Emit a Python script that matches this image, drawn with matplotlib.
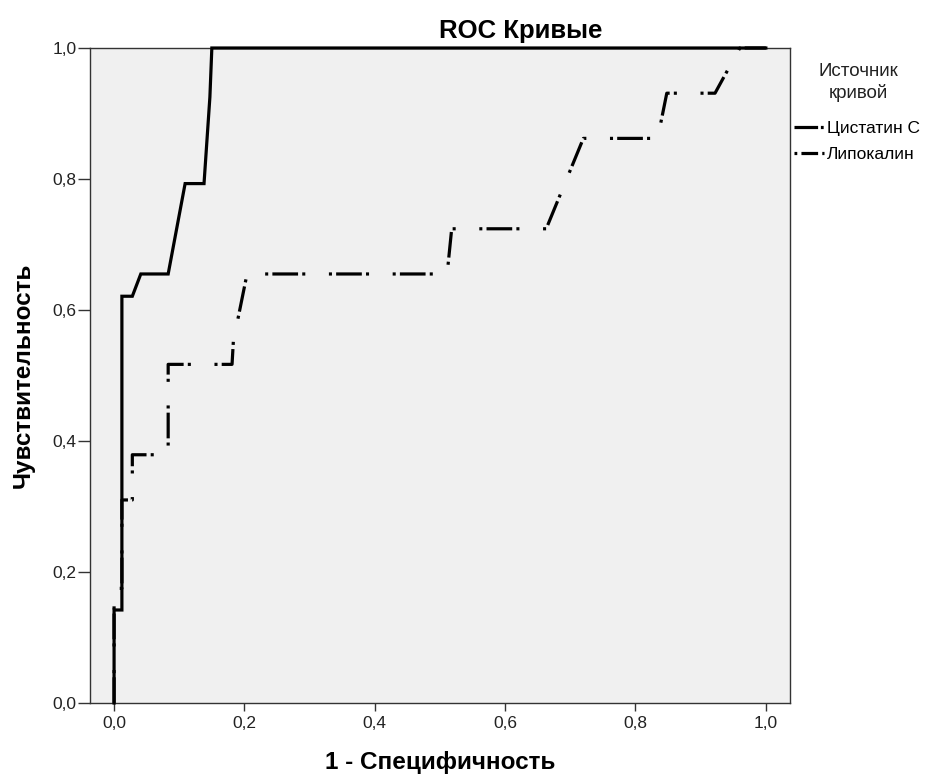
import matplotlib
matplotlib.use("Agg")
import matplotlib.pyplot as plt
from matplotlib.lines import Line2D
from matplotlib.ticker import FuncFormatter

plt.rcParams['font.family'] = ['Liberation Sans', 'DejaVu Sans']
plt.rcParams['lines.scale_dashes'] = False

# ROC coordinates (1 - specificity, sensitivity)
fpr_cystatin = [0.0, 0.0, 0.012, 0.012, 0.028, 0.041, 0.083, 0.109, 0.138, 0.147, 0.150, 1.0]
tpr_cystatin = [0.0, 0.142, 0.142, 0.621, 0.621, 0.655, 0.655, 0.793, 0.793, 0.925, 1.0, 1.0]

fpr_lipocalin = [0.0, 0.0, 0.012, 0.012, 0.028, 0.028, 0.083, 0.083, 0.181, 0.183, 0.204,
                 0.511, 0.518, 0.663, 0.720, 0.834, 0.848, 0.922, 0.960, 1.0]
tpr_lipocalin = [0.0, 0.175, 0.175, 0.310, 0.310, 0.379, 0.379, 0.517, 0.517, 0.552, 0.655,
                 0.655, 0.724, 0.724, 0.862, 0.862, 0.931, 0.931, 1.0, 1.0]

curve_names = ["Цистатин С", "Липокалин"]
ticks = [0.0, 0.2, 0.4, 0.6, 0.8, 1.0]

fig = plt.figure(figsize=(9.41, 7.78), dpi=100)
ax = fig.add_axes([0.0956, 0.0964, 0.7439, 0.8419])
ax.set_facecolor('#f0f0f0')

dashdot = (0, (18.5, 3.0, 2.2, 17.0, 2.2, 3.0))

ax.plot(fpr_cystatin, tpr_cystatin, color='black', lw=2.3, clip_on=False,
        solid_joinstyle='miter', zorder=3)
ax.plot(fpr_lipocalin, tpr_lipocalin, color='black', lw=2.3, ls=dashdot,
        clip_on=False, zorder=2)

ax.set_xlim(-0.037, 1.037)
ax.set_ylim(0.0, 1.0)
ax.set_xticks(ticks)
ax.set_yticks(ticks)
fmt = FuncFormatter(lambda v, p: f"{v:.1f}".replace('.', ','))
ax.xaxis.set_major_formatter(fmt)
ax.yaxis.set_major_formatter(fmt)
ax.tick_params(direction='out', width=1, labelsize=12.5, colors='#333333',
               labelcolor='#222222')
ax.tick_params(axis='x', length=6, pad=3)
ax.tick_params(axis='y', length=8.5, pad=1)
for s in ax.spines.values():
    s.set_color('#333333')
    s.set_linewidth(1.0)

# title centred over the whole chart area (plot + legend)
fig.text(0.553, 0.960, "ROC Кривые", fontsize=18.5, fontweight='bold',
         ha='center', va='center')
ax.set_xlabel("1 - Специфичность", fontsize=17.5, fontweight='bold', labelpad=15)
ax.set_ylabel("Чувствительность", fontsize=17.5, fontweight='bold', labelpad=13)

# legend title and entries
fig.text(0.912, 0.894, "Источник\nкривой", fontsize=13.5, color='#222222',
         ha='center', va='center', linespacing=1.3)
handles = [
    Line2D([], [], color='black', lw=2.3, ls=(0, (17, 2, 2, 30))),
    Line2D([], [], color='black', lw=2.3, ls=(0, (2, 3, 12, 3, 2, 30))),
]
leg = fig.legend(handles, curve_names,
                 loc='upper left', bbox_to_anchor=(0.836, 0.853),
                 frameon=False, fontsize=12.5,
                 handlelength=1.75, handletextpad=0.15, labelspacing=0.62,
                 borderaxespad=0.0)

fig.savefig("out.png", dpi=100)
